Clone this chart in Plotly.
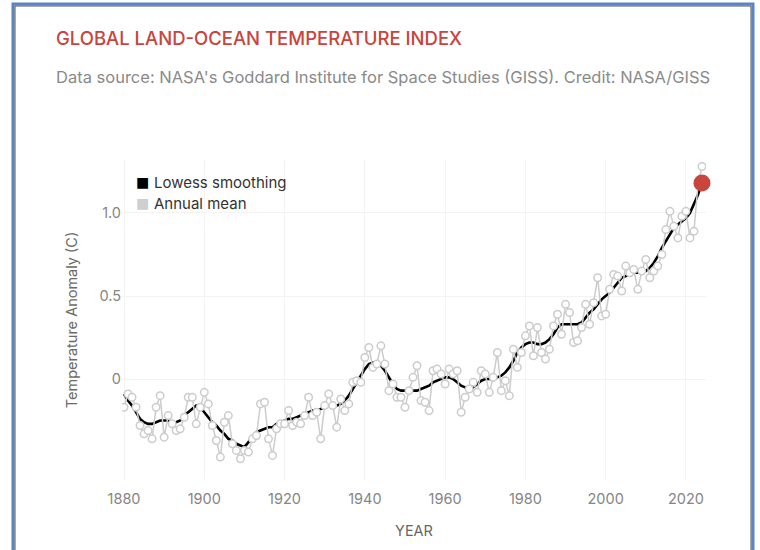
import plotly.graph_objects as go

years = list(range(1880, 2025))
annual_mean = [
    -0.17, -0.09, -0.11, -0.17, -0.28, -0.33, -0.31, -0.36, -0.17, -0.10,
    -0.35, -0.22, -0.27, -0.31, -0.30, -0.23, -0.11, -0.11, -0.27, -0.17,
    -0.08, -0.15, -0.28, -0.37, -0.47, -0.26, -0.22, -0.39, -0.43, -0.48,
    -0.43, -0.44, -0.36, -0.34, -0.15, -0.14, -0.36, -0.46, -0.30, -0.27,
    -0.27, -0.19, -0.28, -0.26, -0.27, -0.22, -0.11, -0.22, -0.20, -0.36,
    -0.16, -0.09, -0.16, -0.29, -0.12, -0.19, -0.15, -0.02, -0.01, -0.02,
    0.13, 0.19, 0.07, 0.09, 0.20, 0.09, -0.07, -0.03, -0.11, -0.11,
    -0.17, -0.07, 0.01, 0.08, -0.13, -0.14, -0.19, 0.05, 0.06, 0.03,
    -0.03, 0.06, 0.03, 0.05, -0.20, -0.11, -0.06, -0.02, -0.08, 0.05,
    0.03, -0.08, 0.01, 0.16, -0.07, -0.01, -0.10, 0.18, 0.07, 0.16,
    0.26, 0.32, 0.14, 0.31, 0.16, 0.12, 0.18, 0.32, 0.39, 0.27,
    0.45, 0.40, 0.22, 0.23, 0.31, 0.45, 0.33, 0.46, 0.61, 0.38,
    0.39, 0.54, 0.63, 0.62, 0.53, 0.68, 0.64, 0.66, 0.54, 0.65,
    0.72, 0.61, 0.65, 0.68, 0.75, 0.90, 1.01, 0.92, 0.85, 0.98,
    1.01, 0.85, 0.89, 1.17, 1.28,
]
lowess = [
    -0.09, -0.13, -0.16, -0.20, -0.24, -0.26, -0.27, -0.27, -0.26, -0.25,
    -0.25, -0.25, -0.26, -0.26, -0.25, -0.22, -0.20, -0.18, -0.16, -0.17,
    -0.20, -0.23, -0.26, -0.28, -0.31, -0.33, -0.36, -0.37, -0.39, -0.40,
    -0.41, -0.38, -0.35, -0.32, -0.31, -0.30, -0.29, -0.29, -0.27, -0.26,
    -0.25, -0.24, -0.24, -0.23, -0.22, -0.21, -0.20, -0.19, -0.19, -0.18,
    -0.17, -0.16, -0.17, -0.16, -0.15, -0.13, -0.10, -0.06, -0.02, 0.02,
    0.06, 0.09, 0.10, 0.10, 0.08, 0.05, 0.01, -0.03, -0.06, -0.07,
    -0.07, -0.07, -0.07, -0.07, -0.06, -0.05, -0.04, -0.02, -0.01, 0.00,
    0.01, 0.01, 0.00, -0.02, -0.04, -0.05, -0.06, -0.05, -0.03, -0.01,
    0.00, 0.00, 0.00, 0.01, 0.02, 0.04, 0.07, 0.11, 0.16, 0.19,
    0.21, 0.22, 0.22, 0.21, 0.21, 0.22, 0.24, 0.27, 0.31, 0.33,
    0.33, 0.33, 0.33, 0.33, 0.34, 0.37, 0.40, 0.42, 0.45, 0.48,
    0.50, 0.52, 0.55, 0.58, 0.61, 0.62, 0.63, 0.64, 0.64, 0.64,
    0.65, 0.67, 0.70, 0.74, 0.79, 0.83, 0.87, 0.91, 0.93, 0.95,
    0.97, 1.00, 1.05, 1.11, 1.18,
]
x_ticks = [1880, 1900, 1920, 1940, 1960, 1980, 2000, 2020]
y_ticks = [0, 0.5, 1.0]
y_tick_labels = ["0", "0.5", "1.0"]
legend_names = ["Lowess smoothing", "Annual mean"]
legend_colors = ["#000000", "#cfcfcf"]

FONT = "Inter"
RED = "#c8443c"
GRAY = "#cccccc"

fig = go.Figure()

fig.add_trace(go.Scatter(
    x=years, y=lowess, mode="lines",
    line=dict(color="#000000", width=2.6),
    showlegend=False, hoverinfo="skip",
))
fig.add_trace(go.Scatter(
    x=years, y=annual_mean, mode="lines+markers",
    line=dict(color=GRAY, width=1.5),
    marker=dict(symbol="circle", size=7.5, color="white",
                line=dict(color=GRAY, width=1.5)),
    showlegend=False,
))
fig.add_trace(go.Scatter(
    x=years[-1:], y=lowess[-1:], mode="markers",
    marker=dict(size=17, color=RED),
    showlegend=False, cliponaxis=False,
))

L, R, T, B = 122, 54, 160, 70
pw = 760 - L - R
ph = 550 - T - B

def px_x(p):
    return (p - L) / pw

def px_y(p):
    return (550 - B - p) / ph

annotations = [
    dict(text="GLOBAL LAND-OCEAN TEMPERATURE INDEX", xref="paper", yref="paper",
         x=px_x(54), y=px_y(38), xanchor="left", yanchor="middle",
         showarrow=False, font=dict(size=18.5, color=RED, family=FONT, weight=500)),
    dict(text="Data source: NASA's Goddard Institute for Space Studies (GISS). Credit: NASA/GISS",
         xref="paper", yref="paper",
         x=px_x(54), y=px_y(77), xanchor="left", yanchor="middle",
         showarrow=False, font=dict(size=16.5, color="#8a8a8a", family=FONT)),
]
for i, (name, col) in enumerate(zip(legend_names, legend_colors)):
    yy = 182 + 21 * i
    annotations.append(dict(
        text="■", xref="paper", yref="paper", x=px_x(142), y=px_y(yy),
        xanchor="center", yanchor="middle", showarrow=False,
        font=dict(size=14, color=col, family="DejaVu Sans")))
    annotations.append(dict(
        text=name, xref="paper", yref="paper", x=px_x(152), y=px_y(yy),
        xanchor="left", yanchor="middle", showarrow=False,
        font=dict(size=15, color="#333333", family=FONT)))

fig.update_layout(
    width=760, height=550,
    margin=dict(l=L, r=R, t=T, b=B),
    paper_bgcolor="white", plot_bgcolor="white",
    font=dict(family=FONT, color="#555555"),
    showlegend=False,
    xaxis=dict(range=[1879.5, 2025], tickvals=x_ticks, showgrid=True,
               gridcolor="#f3f3f3", zeroline=False, showline=False,
               ticks="", tickfont=dict(size=14.5, color="#858585"),
               ticklabelstandoff=8,
               title=dict(text="YEAR", font=dict(size=14.5, color="#666666"),
                          standoff=20)),
    yaxis=dict(range=[-0.608, 1.319], tickvals=y_ticks, ticktext=y_tick_labels,
               showgrid=True, gridcolor="#f3f3f3", zeroline=False,
               showline=False, ticks="",
               tickfont=dict(size=14.5, color="#858585"),
               title=dict(text="Temperature Anomaly (C)",
                          font=dict(size=14.5, color="#6a6a6a"), standoff=18)),
    shapes=[
        dict(type="rect", xref="paper", yref="paper",
             x0=px_x(13), x1=px_x(753), y0=px_y(556), y1=px_y(4),
             line=dict(color="#5b84c4", width=3), layer="below"),
        dict(type="rect", xref="paper", yref="paper",
             x0=px_x(15), x1=px_x(751), y0=px_y(556), y1=px_y(6),
             line=dict(color="#555555", width=1), layer="below"),
    ],
    annotations=annotations,
)

fig.write_html("out.html", config={"displayModeBar": False},
               post_script="document.body.style.margin='0';")
